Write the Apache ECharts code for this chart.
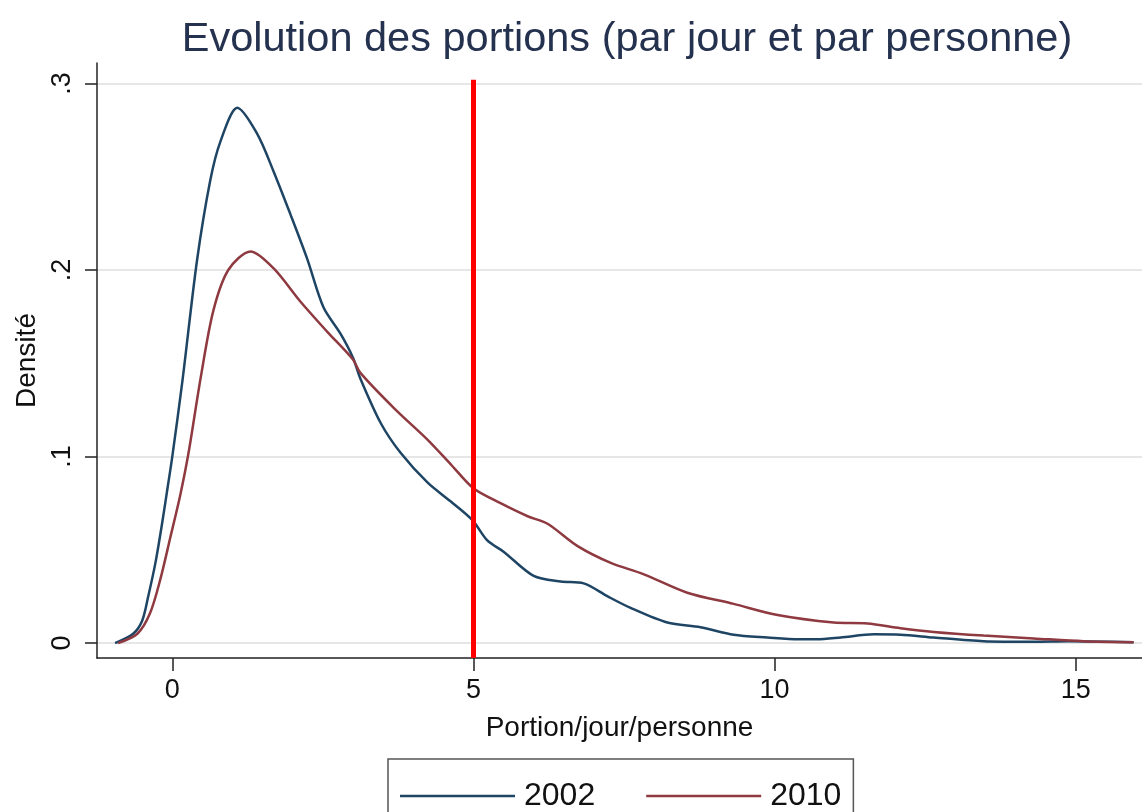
<!DOCTYPE html>
<html>
<head>
<meta charset="utf-8">
<script src="https://cdn.jsdelivr.net/npm/echarts@6/dist/echarts.min.js"></script>
<style>
  html, body { margin: 0; padding: 0; background: #fff; }
  #chart { width: 1142px; height: 812px; }
</style>
</head>
<body>
<div id="chart"></div>
<script>
// densite 2002
const x2002 = [-0.95, -0.65, -0.5, -0.4, -0.28, -0.17, -0.07, 0, 0.17, 0.41, 0.63, 0.8, 1.08, 1.41, 1.68, 1.96, 2.24, 2.51, 2.79, 3.0, 3.12, 3.46, 3.79, 4.24, 4.62, 4.98, 5.23, 5.5, 6.0, 6.45, 6.83, 7.23, 7.6, 8.22, 8.77, 9.32, 9.88, 10.4, 10.7, 11.1, 11.65, 12.09, 12.64, 13.47, 14.3, 14.87, 15.96];
const y2002 = [0, 0.005, 0.012, 0.025, 0.043, 0.064, 0.085, 0.1, 0.141, 0.205, 0.248, 0.269, 0.287, 0.273, 0.253, 0.23, 0.206, 0.18, 0.166, 0.153, 0.142, 0.118, 0.102, 0.086, 0.076, 0.066, 0.055, 0.049, 0.036, 0.033, 0.032, 0.025, 0.019, 0.011, 0.0085, 0.0045, 0.003, 0.002, 0.002, 0.003, 0.0047, 0.0045, 0.003, 0.001, 0.0007, 0.001, 0.0005];

// densite 2010
const x2010 = [-0.9, -0.58, -0.37, -0.2, -0.03, 0.13, 0.27, 0.47, 0.68, 0.93, 1.3, 1.68, 2.13, 2.57, 3.0, 3.12, 3.68, 4.24, 4.62, 5.0, 5.45, 5.9, 6.23, 6.73, 7.28, 7.82, 8.55, 9.32, 10.05, 10.98, 11.54, 12.09, 12.64, 13.47, 14.3, 15.13, 15.96];
const y2010 = [0, 0.005, 0.016, 0.034, 0.057, 0.079, 0.102, 0.142, 0.178, 0.2, 0.21, 0.201, 0.183, 0.167, 0.152, 0.145, 0.126, 0.109, 0.096, 0.083, 0.075, 0.068, 0.064, 0.052, 0.043, 0.037, 0.027, 0.021, 0.015, 0.011, 0.0105, 0.008, 0.006, 0.004, 0.0025, 0.001, 0.0005];

const xTicks = [0, 5, 10, 15];
const yTicks = [0, 0.1, 0.2, 0.3];
const seuil = 5; // 5 portions par jour

const chart = echarts.init(document.getElementById("chart"));

function pairs(xs, ys) {
  return xs.map((x, i) => [x, ys[i]]);
}

const font = "'Liberation Sans', Arial, Helvetica, sans-serif";

const option = {
  animation: false,
  backgroundColor: "#fff",
  textStyle: { fontFamily: font },
  title: {
    text: "Evolution des portions (par jour et par personne)",
    left: 622,
    top: 14,
    textAlign: "center",
    textStyle: {
      fontFamily: font,
      fontSize: 41.5,
      fontWeight: "normal",
      color: "#25324f"
    }
  },
  grid: {
    left: 97,
    right: 0,
    top: 63,
    bottom: 154
  },
  legend: {
    data: ["2002", "2010"],
    left: 388,
    top: 759,
    icon: "rect",
    itemWidth: 115,
    itemHeight: 2.5,
    itemGap: 51,
    padding: [21, 12, 20, 12],
    borderColor: "#555",
    borderWidth: 1.5,
    borderRadius: 0,
    textStyle: {
      fontFamily: font,
      fontSize: 32,
      color: "#111",
      padding: [0, 0, 0, 4]
    }
  },
  xAxis: {
    type: "value",
    min: -1.25,
    max: 16.1,
    name: "Portion/jour/personne",
    nameLocation: "middle",
    nameGap: 56,
    nameTextStyle: { fontFamily: font, fontSize: 28, color: "#111" },
    axisLine: { show: true, onZero: false, lineStyle: { color: "#222", width: 1.5 } },
    axisTick: { show: true, length: 13, customValues: xTicks, lineStyle: { color: "#222", width: 1.5 } },
    axisLabel: {
      customValues: xTicks,
      margin: 19,
      fontFamily: font,
      fontSize: 27,
      color: "#111"
    },
    splitLine: { show: false }
  },
  yAxis: {
    type: "value",
    min: -0.008,
    max: 0.311,
    name: "Densité",
    nameLocation: "middle",
    nameGap: 55,
    nameTextStyle: { fontFamily: font, fontSize: 28, color: "#111" },
    axisLine: { show: true, onZero: false, lineStyle: { color: "#222", width: 1.5 } },
    axisTick: { show: true, length: 12, customValues: yTicks, lineStyle: { color: "#222", width: 1.5 } },
    axisLabel: {
      customValues: yTicks,
      rotate: 90,
      margin: 21,
      fontFamily: font,
      fontSize: 27,
      color: "#111",
      formatter: function (v) {
        return v === 0 ? "0" : String(+v.toFixed(2)).replace(/^0/, "");
      }
    },
    splitLine: { show: true, lineStyle: { color: "#e6e6e6", width: 2 } }
  },
  series: [
    {
      name: "2002",
      type: "line",
      smooth: 0.3,
      symbol: "none",
      data: pairs(x2002, y2002),
      lineStyle: { color: "#1f4565", width: 2.5 },
      itemStyle: { color: "#1f4565" }
    },
    {
      name: "2010",
      type: "line",
      smooth: 0.3,
      symbol: "none",
      data: pairs(x2010, y2010),
      lineStyle: { color: "#8e3a40", width: 2.5 },
      itemStyle: { color: "#8e3a40" }
    },
    {
      name: "seuil",
      type: "line",
      data: [],
      markLine: {
        silent: true,
        symbol: "none",
        label: { show: false },
        lineStyle: { color: "#ff0000", width: 5, type: "solid" },
        data: [[{ coord: [seuil, -0.008] }, { coord: [seuil, 0.302] }]]
      }
    }
  ]
};

chart.setOption(option);
</script>
</body>
</html>
